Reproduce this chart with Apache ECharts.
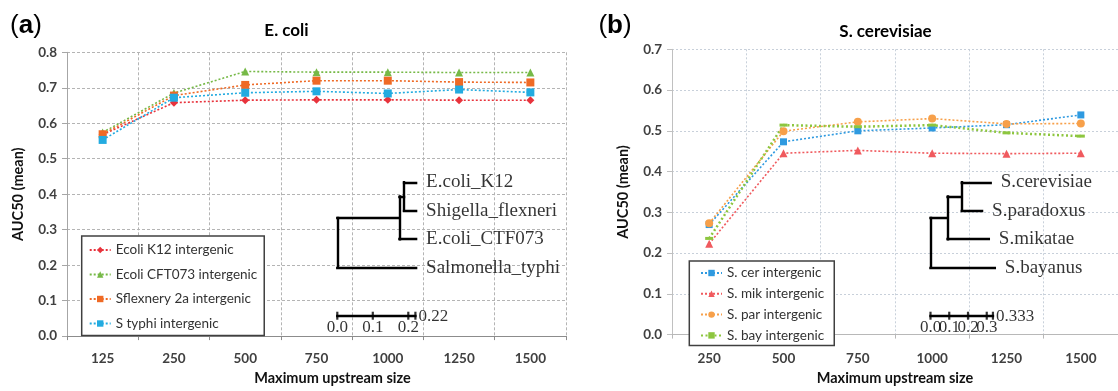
<!DOCTYPE html>
<html><head><meta charset="utf-8">
<script src="https://cdn.jsdelivr.net/npm/echarts@6/dist/echarts.min.js"></script>
<style>html,body{margin:0;padding:0;background:#fff}#c{width:1118px;height:391px}</style>
</head><body><div id="c"></div>
<script>
// ---------- data ----------
const catsA = ['125','250','500','750','1000','1250','1500'];
const ecoliK12   = [0.568, 0.658, 0.665, 0.666, 0.666, 0.665, 0.665];
const ecoliCFT073= [0.574, 0.685, 0.746, 0.744, 0.744, 0.743, 0.743];
const sflex2a    = [0.569, 0.678, 0.708, 0.720, 0.720, 0.716, 0.715];
const styphi     = [0.553, 0.672, 0.686, 0.690, 0.684, 0.695, 0.687];
const namesA = ['Ecoli K12 intergenic','Ecoli CFT073 intergenic','Sflexnery 2a intergenic','S typhi intergenic'];

const catsB = ['250','500','750','1000','1250','1500'];
const scer = [0.270, 0.473, 0.500, 0.507, 0.515, 0.539];
const smik = [0.223, 0.445, 0.452, 0.445, 0.444, 0.445];
const spar = [0.273, 0.499, 0.522, 0.530, 0.517, 0.518];
const sbay = [0.236, 0.514, 0.510, 0.514, 0.495, 0.487];
const namesB = ['S. cer intergenic','S. mik intergenic','S. par intergenic','S. bay intergenic'];

const yMaxA = 0.8, yMaxB = 0.7, yStep = 0.1;

const treeA = '(((E.coli_K12:0.034,Shigella_flexneri:0.034):0.013,E.coli_CTF073:0.047):0.175,Salmonella_typhi:0.222);';
const treeB = '(((S.cerevisiae:0.154,S.paradoxus:0.108):0.076,S.mikatae:0.220):0.091,S.bayanus:0.343);';
const scaleTicksA = [0, 0.1, 0.2]; const scaleTotalA = 0.22;
const scaleTicksB = [0, 0.1, 0.2, 0.3]; const scaleTotalB = 0.333;

// ---------- tree helpers ----------
function parseNewick(s){
  let i=0;
  function node(){
    const n={children:[],name:'',len:0};
    if(s[i]==='('){ i++; n.children.push(node()); while(s[i]===','){i++; n.children.push(node());} i++; }
    let name=''; while(i<s.length && !':,();'.includes(s[i])) name+=s[i++];
    n.name=name;
    if(s[i]===':'){ i++; let num=''; while(i<s.length && !',();'.includes(s[i])) num+=s[i++]; n.len=parseFloat(num); }
    return n;
  }
  return node();
}
function layoutTree(str){
  const root=parseNewick(str); let leafIdx=0; const segs=[], leaves=[];
  (function walk(n,x){
    n.x=x+n.len;
    if(!n.children.length){ n.y=leafIdx++; leaves.push([n.x,n.y,n.name]); return; }
    n.children.forEach(c=>walk(c,n.x));
    const f=n.children[0], l=n.children[n.children.length-1];
    n.y=(f.y+l.y)/2;
    segs.push([[n.x,f.y],[n.x,l.y]]);
    n.children.forEach(c=>segs.push([[n.x,c.y],[c.x,c.y]]));
  })(root,0);
  return {segs,leaves};
}
const SCALE_ROW = 4.686;
function treeSeries(str, ticks, total, idx){
  const t=layoutTree(str);
  const serif='Liberation Serif';
  const tickData = ticks.map(v=>({value:[v,SCALE_ROW], label:{show:true, position:'inside', offset:[0,12], formatter:v.toFixed(1), fontFamily:serif, fontSize:17, color:'#000'}}));
  tickData.push({value:[total,SCALE_ROW], label:{show:true, position:'right', distance:2, offset:[0,1], formatter:String(total), fontFamily:serif, fontSize:17, color:'#000'}});
  return [
    {type:'lines', coordinateSystem:'cartesian2d', xAxisIndex:idx, yAxisIndex:idx, silent:true, z:5,
      data:t.segs.concat([[[0,SCALE_ROW],[total,SCALE_ROW]]]).map(s=>({coords:s})),
      lineStyle:{color:'#000', width:2.4, opacity:1, cap:'square', curveness:0}},
    {type:'scatter', xAxisIndex:idx, yAxisIndex:idx, silent:true, z:6, symbolSize:0,
      data:t.leaves, label:{show:true, position:'right', distance:10, formatter:p=>p.data[2], fontFamily:serif, fontSize:19, color:'#000'}},
    {type:'scatter', xAxisIndex:idx, yAxisIndex:idx, silent:true, z:6, symbol:'rect', symbolSize:[2.2,8],
      itemStyle:{color:'#000'}, data:tickData}
  ];
}

// ---------- styles ----------
const sans='Lato';
const tickLabel={fontFamily:sans, fontSize:13.5, fontWeight:'bold', color:'#404040'};
const nameStyle={fontFamily:sans, fontSize:14.5, fontWeight:'bold', color:'#111'};
function lineSer(name,data,color,symbol,size,xi,dash,width){
  return {name, type:'line', data, xAxisIndex:xi, yAxisIndex:xi, symbol, symbolSize:size, showSymbol:true,
    itemStyle:{color}, lineStyle:{color, width:width||1.6, type:dash||[2,2]}, z:3};
}
const colA=['#e8333c','#76b947','#ef6a25','#23abe0'];
const colB=['#2f9ae0','#f05a5e','#f7a04a','#8dc63f'];

const option={
  animation:false,
  graphic:[
    {type:'text', x:26, y:25.5, style:{text:'{p|(}{b|a}{p|)}', align:'center', verticalAlign:'middle',
      rich:{p:{fontFamily:'Liberation Sans', fontSize:26, fill:'#000'}, b:{fontFamily:'Liberation Sans', fontSize:26, fontWeight:'bold', fill:'#000'}}}},
    {type:'text', x:615, y:25.5, style:{text:'{p|(}{b|b}{p|)}', align:'center', verticalAlign:'middle',
      rich:{p:{fontFamily:'Liberation Sans', fontSize:26, fill:'#000'}, b:{fontFamily:'Liberation Sans', fontSize:26, fontWeight:'bold', fill:'#000'}}}},
    {type:'text', x:286.5, y:31, style:{text:'E. coli', align:'center', verticalAlign:'middle', font:'bold 17px Lato', fill:'#000'}},
    {type:'text', x:885.5, y:32, style:{text:'S. cerevisiae', align:'center', verticalAlign:'middle', font:'bold 17px Lato', fill:'#000'}}
  ],
  legend:[
    {data:namesA, orient:'vertical', left:81.7, top:236, padding:[7,7,5,7], itemWidth:21, itemHeight:8, itemGap:10.5,
      backgroundColor:'#fff', borderColor:'#404040', borderWidth:1.5, borderRadius:0,
      textStyle:{fontFamily:sans, fontSize:13.5, color:'#333', lineHeight:14}, z:10},
    {data:namesB, orient:'vertical', left:689.3, top:261, padding:[5,10,3,10.7], itemWidth:21, itemHeight:8, itemGap:6.8,
      backgroundColor:'#fff', borderColor:'#404040', borderWidth:1.5, borderRadius:0,
      textStyle:{fontFamily:sans, fontSize:13.5, color:'#333', lineHeight:14}, z:10}
  ],
  grid:[
    {left:67, top:52.3, width:499, height:289.5},
    {left:672, top:49.3, width:459, height:298},
    {left:337.3, top:182.3, width:355, height:142.35},
    {left:930.5, top:182.3, width:228, height:142.35}
  ],
  xAxis:[
    {gridIndex:0, type:'category', data:catsA, boundaryGap:true,
      axisLine:{lineStyle:{color:'#8c8c8c', width:1}}, axisTick:{show:true, length:4, lineStyle:{color:'#8c8c8c'}},
      axisLabel:Object.assign({margin:16, interval:0}, tickLabel),
      splitLine:{show:true, lineStyle:{color:'#b4b4b4', type:[3,2], width:1}},
      name:'Maximum upstream size', nameLocation:'middle', nameGap:34, nameTextStyle:Object.assign({padding:[0,0,0,32]}, nameStyle)},
    {gridIndex:1, type:'category', data:catsB, boundaryGap:true,
      axisLine:{lineStyle:{color:'#b8b8b8', width:1}}, axisTick:{show:true, length:4, lineStyle:{color:'#b8b8b8'}},
      axisLabel:Object.assign({margin:17.5, interval:0}, tickLabel),
      splitLine:{show:true, lineStyle:{color:'#c8d0da', type:[2,2], width:1}},
      name:'Maximum upstream size', nameLocation:'middle', nameGap:28, nameTextStyle:nameStyle},
    {gridIndex:2, type:'value', min:0, max:1, show:false},
    {gridIndex:3, type:'value', min:0, max:1, show:false}
  ],
  yAxis:[
    {gridIndex:0, type:'value', min:0, max:yMaxA, interval:yStep,
      axisLine:{show:true, lineStyle:{color:'#a6a6a6'}}, axisTick:{show:true, length:5, lineStyle:{color:'#a6a6a6'}},
      axisLabel:Object.assign({margin:10, formatter:v=>v.toFixed(1)}, tickLabel),
      splitLine:{show:true, lineStyle:{color:'#b4b4b4', type:[3,2], width:1}},
      name:'AUC50 (mean)', nameLocation:'middle', nameGap:41, nameTextStyle:nameStyle},
    {gridIndex:1, type:'value', min:0, max:yMaxB, interval:yStep,
      axisLine:{show:true, lineStyle:{color:'#c0c0c0'}}, axisTick:{show:true, length:5, lineStyle:{color:'#c0c0c0'}},
      axisLabel:Object.assign({margin:10, formatter:v=>v.toFixed(1)}, tickLabel),
      splitLine:{show:true, lineStyle:{color:'#c8d0da', type:[2,2], width:1}},
      name:'AUC50 (mean)', nameLocation:'middle', nameGap:41.5, nameTextStyle:nameStyle},
    {gridIndex:2, type:'value', min:0, max:5, inverse:true, show:false},
    {gridIndex:3, type:'value', min:0, max:5, inverse:true, show:false}
  ],
  series:[
    lineSer(namesA[0], ecoliK12, colA[0], 'diamond', 8, 0),
    lineSer(namesA[1], ecoliCFT073, colA[1], 'triangle', 8, 0),
    lineSer(namesA[2], sflex2a, colA[2], 'rect', 8, 0),
    lineSer(namesA[3], styphi, colA[3], 'rect', 8, 0),
    lineSer(namesB[0], scer, colB[0], 'rect', 7, 1),
    lineSer(namesB[1], smik, colB[1], 'triangle', 8, 1),
    lineSer(namesB[2], spar, colB[2], 'circle', 8, 1),
    lineSer(namesB[3], sbay, colB[3], 'rect', [8,3], 1, [2,2.5], 2.5),
    ...treeSeries(treeA, scaleTicksA, scaleTotalA, 2),
    ...treeSeries(treeB, scaleTicksB, scaleTotalB, 3)
  ]
};
const chart=echarts.init(document.getElementById('c'), null, {renderer:'canvas'});
chart.setOption(option);
</script></body></html>
